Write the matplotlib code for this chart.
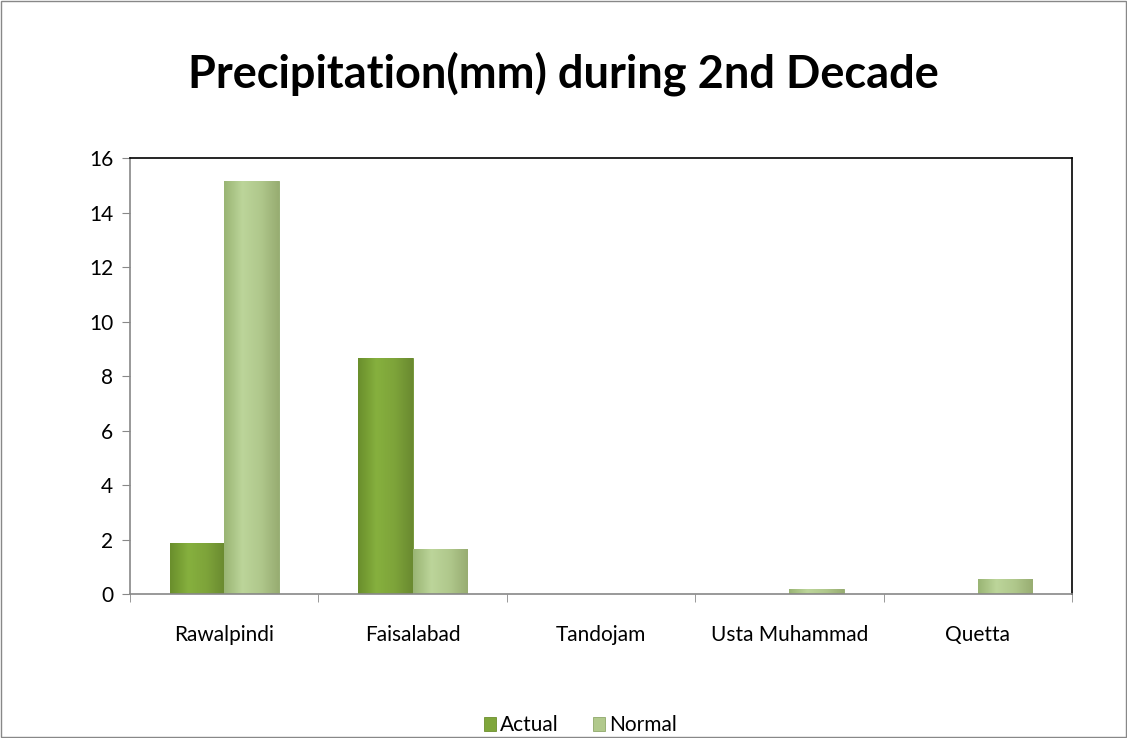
import numpy as np
import matplotlib
matplotlib.use("Agg")
import matplotlib.pyplot as plt
from matplotlib.patches import Rectangle
from matplotlib.colors import LinearSegmentedColormap

# data
stations = ["Rawalpindi", "Faisalabad", "Tandojam", "Usta Muhammad", "Quetta"]
actual = [1.88, 8.65, 0.0, 0.0, 0.0]
normal = [15.17, 1.64, 0.0, 0.17, 0.55]
yticks = [0, 2, 4, 6, 8, 10, 12, 14, 16]

plt.rcParams['font.family'] = ['Lato', 'DejaVu Sans']

fig = plt.figure(figsize=(11.27, 7.38), dpi=100)
ax = fig.add_axes([0.1153, 0.1951, 0.8358, 0.5908])

x = np.arange(len(stations))
w = 0.29
c_act = "#7fa63b"
c_norm = "#b1c98c"
b1 = ax.bar(x - w / 2, actual, w, color=c_act, edgecolor="#6c8f2e", linewidth=0.6, label="Actual")
b2 = ax.bar(x + w / 2, normal, w, color=c_norm, edgecolor="#8fa86a", linewidth=0.6, label="Normal")

# shaded look on the bars
cm_act = LinearSegmentedColormap.from_list("a", ["#6a8f2c", "#86b03e", "#7ea43a", "#6a8a30"])
cm_norm = LinearSegmentedColormap.from_list("n", ["#9ab574", "#bcd59a", "#b0c88c", "#98ad72"])
grad = np.linspace(0, 1, 64).reshape(1, -1)
for bars, cm in [(b1, cm_act), (b2, cm_norm)]:
    for r in bars:
        h = r.get_height()
        if h <= 0:
            continue
        x0 = r.get_x()
        im = ax.imshow(grad, cmap=cm, aspect="auto", extent=(x0, x0 + r.get_width(), 0, h),
                       zorder=r.get_zorder() + 0.1)
        im.set_clip_path(r)

ax.set_xlim(-0.5, len(stations) - 0.5)
ax.set_ylim(0, 16)
ax.set_yticks(yticks)
ax.set_yticklabels([str(t) for t in yticks], fontsize=15)
ax.set_xticks(x)
ax.set_xticklabels(stations, fontsize=15)
ax.tick_params(axis="x", length=0, pad=22)
ax.set_xticks(np.arange(-0.5, len(stations)), minor=True)
ax.tick_params(axis="x", which="minor", length=6, color="#888888", direction="out")
ax.tick_params(axis="y", length=6, color="#888888", direction="out", pad=6)

for s in ["left", "bottom"]:
    ax.spines[s].set_color("#888888")
    ax.spines[s].set_linewidth(1.2)
for s in ["top", "right"]:
    ax.spines[s].set_color("black")
    ax.spines[s].set_linewidth(1.2)

fig.text(0.5, 0.9, "Precipitation(mm) during 2nd Decade", ha="center", va="center",
         fontsize=32.5, fontweight="bold")

leg = fig.legend(loc="center", bbox_to_anchor=(0.515, 0.017), ncol=2, frameon=False,
                 fontsize=15, handlelength=0.6, handleheight=0.6, handletextpad=0.2,
                 columnspacing=1.6)

# outer frame of the chart area
fig.patches.append(Rectangle((0.001, 0.001), 0.998, 0.998, transform=fig.transFigure,
                             fill=False, edgecolor="#888888", linewidth=1.0))

fig.savefig("out.png", dpi=100)
